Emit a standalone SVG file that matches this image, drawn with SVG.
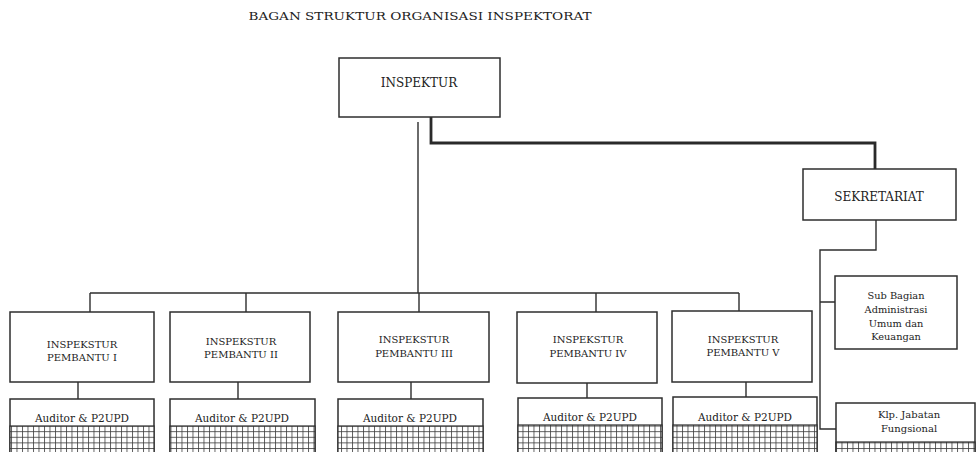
<svg xmlns="http://www.w3.org/2000/svg" width="976" height="452" viewBox="0 0 976 452">
<style>
  .box { fill: #ffffff; stroke: #2e2e2e; stroke-width: 1.5; }
  .grid { fill: url(#hatch); stroke: #2e2e2e; stroke-width: 1.2; }
  .ln { fill: none; stroke: #2e2e2e; stroke-width: 1.4; }
  .thick { fill: none; stroke: #2a2a2a; stroke-width: 2.8; }
  text { font-family: "DejaVu Serif", "Liberation Serif", serif; fill: #222222; text-anchor: middle; }
  .t0 { font-size: 11.5px; }
  .t1 { font-size: 10.5px; }
  .t2 { font-size: 12px; }
  .t3 { font-size: 10px; }
  .t4 { font-size: 9.8px; }
</style>
<defs>
  <pattern id="hatch" patternUnits="userSpaceOnUse" width="5.5" height="5.6">
    <rect width="5.5" height="5.6" fill="#ffffff"/>
    <path d="M0.5 0 V5.6 M0 0.5 H5.5" stroke="#3a3a3a" stroke-width="0.8" fill="none"/>
  </pattern>
</defs>
<rect width="976" height="452" fill="#ffffff"/>

<text class="t0" x="420" y="20" textLength="343" lengthAdjust="spacingAndGlyphs">BAGAN STRUKTUR ORGANISASI INSPEKTORAT</text>

<g id="connectors">
  <path class="ln" d="M418 122 V293 M90 293 H739"/>
  <path class="ln" d="M90 293 V312 M246 293 V312 M419 293 V312 M596 293 V312 M739 293 V311"/>
  <path class="ln" d="M78 382 V399 M238 382 V399 M411 382 V399 M587 383 V398 M746 382 V397"/>
  <path class="thick" d="M431 117 V143 H875 V169"/>
  <path class="ln" d="M876 220 V250 H820 V429 H836 M820 302 H835"/>
</g>

<g id="inspektur">
  <rect class="box" x="339" y="58" width="161" height="59"/>
  <text class="t2" x="419" y="87">INSPEKTUR</text>
</g>

<g id="sekretariat">
  <rect class="box" x="803" y="169" width="153" height="51"/>
  <text class="t2" x="879" y="201">SEKRETARIAT</text>
</g>

<g id="ip1">
  <rect class="box" x="10" y="312" width="144" height="70"/>
  <text class="t3" x="82" y="348">INSPEKSTUR</text>
  <text class="t3" x="82" y="361">PEMBANTU I</text>
</g>
<g id="ip2">
  <rect class="box" x="170" y="312" width="140" height="70"/>
  <text class="t3" x="241" y="345">INSPEKSTUR</text>
  <text class="t3" x="241" y="358">PEMBANTU II</text>
</g>
<g id="ip3">
  <rect class="box" x="338" y="312" width="151" height="70"/>
  <text class="t3" x="414" y="343">INSPEKSTUR</text>
  <text class="t3" x="414" y="357">PEMBANTU III</text>
</g>
<g id="ip4">
  <rect class="box" x="517" y="312" width="140" height="71"/>
  <text class="t3" x="588" y="343">INSPEKSTUR</text>
  <text class="t3" x="588" y="357">PEMBANTU IV</text>
</g>
<g id="ip5">
  <rect class="box" x="672" y="311" width="140" height="71"/>
  <text class="t3" x="743" y="343">INSPEKSTUR</text>
  <text class="t3" x="743" y="356">PEMBANTU V</text>
</g>

<g id="aud1">
  <rect class="box" x="10" y="399" width="144" height="60"/>
  <rect class="grid" x="10" y="426" width="144" height="33"/>
  <text class="t1" x="82" y="422">Auditor &amp; P2UPD</text>
</g>
<g id="aud2">
  <rect class="box" x="170" y="399" width="145" height="60"/>
  <rect class="grid" x="170" y="426" width="145" height="33"/>
  <text class="t1" x="242" y="422">Auditor &amp; P2UPD</text>
</g>
<g id="aud3">
  <rect class="box" x="338" y="399" width="145" height="60"/>
  <rect class="grid" x="338" y="426" width="145" height="33"/>
  <text class="t1" x="410" y="422">Auditor &amp; P2UPD</text>
</g>
<g id="aud4">
  <rect class="box" x="518" y="398" width="144" height="60"/>
  <rect class="grid" x="518" y="425" width="144" height="33"/>
  <text class="t1" x="590" y="421">Auditor &amp; P2UPD</text>
</g>
<g id="aud5">
  <rect class="box" x="673" y="397" width="144" height="60"/>
  <rect class="grid" x="673" y="425" width="144" height="33"/>
  <text class="t1" x="745" y="421">Auditor &amp; P2UPD</text>
</g>

<g id="subbagian">
  <rect class="box" x="835" y="276" width="122" height="73"/>
  <text class="t4" x="896" y="299">Sub Bagian</text>
  <text class="t4" x="896" y="313">Administrasi</text>
  <text class="t4" x="896" y="327">Umum dan</text>
  <text class="t4" x="896" y="340">Keuangan</text>
</g>

<g id="klp">
  <rect class="box" x="836" y="403" width="139" height="60"/>
  <rect class="grid" x="836" y="442" width="139" height="20"/>
  <text class="t3" x="909" y="418">Klp. Jabatan</text>
  <text class="t3" x="909" y="432">Fungsional</text>
</g>
</svg>
